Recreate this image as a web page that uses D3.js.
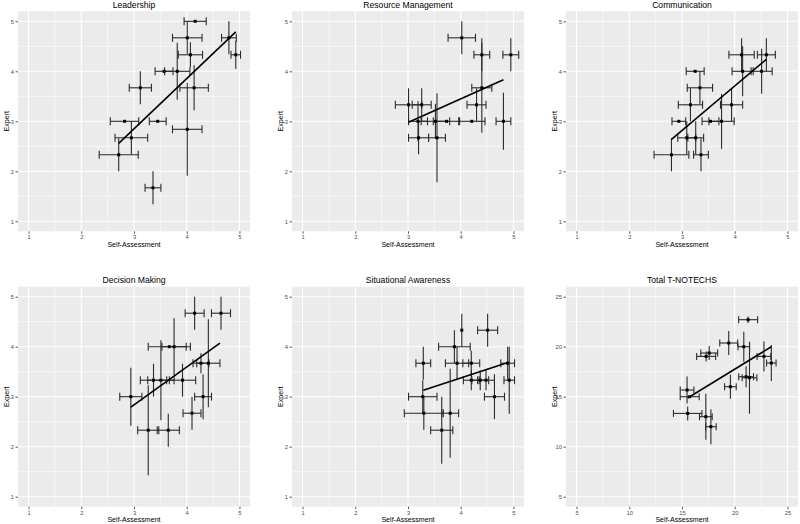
<!DOCTYPE html>
<html><head><meta charset="utf-8">
<script src="https://cdn.jsdelivr.net/npm/d3@7"></script>
<style>html,body{margin:0;padding:0;background:#fff;}svg{display:block;font-family:"Liberation Sans",Arial,sans-serif;}</style>
</head><body><svg id="c" width="800" height="524"></svg>
<script>
// ---------- data ----------
const panelTitles = ["Leadership","Resource Management","Communication","Decision Making","Situational Awareness","Total T-NOTECHS"];
const ticks1to5 = [1,2,3,4,5];
const ticksTotal = [5,10,15,20,25];

const leadSelf      = [4.16,4.01,4.07,4.80,4.93,3.57,3.82,3.12,4.14,2.82,3.45,4.01,2.95,2.71,3.36];
const leadSelfErr   = [0.21,0.28,0.23,0.14,0.09,0.17,0.24,0.21,0.27,0.27,0.16,0.28,0.31,0.37,0.15];
const leadExpert    = [5.00,4.67,4.33,4.67,4.33,4.00,4.00,3.67,3.67,3.00,3.00,2.84,2.67,2.33,1.67];
const leadExpertErr = [0.00,0.33,0.25,0.33,0.28,0.00,0.57,0.33,0.45,0.00,0.00,0.93,0.33,0.33,0.33];
const leadFitX = [2.71,4.93], leadFitY = [2.56,4.79];

const resSelf      = [4.02,4.40,4.95,4.40,4.30,3.01,3.26,3.19,3.52,3.73,4.21,4.81,3.20,3.55];
const resSelfErr   = [0.26,0.15,0.15,0.19,0.18,0.25,0.18,0.18,0.27,0.25,0.25,0.14,0.19,0.16];
const resExpert    = [4.67,4.33,4.33,3.67,3.33,3.33,3.33,3.00,3.00,3.00,3.00,3.00,2.67,2.67];
const resExpertErr = [0.33,0.33,0.33,0.90,0.33,0.33,0.33,0.40,0.35,0.00,0.00,0.57,0.33,0.89];
const resFitX = [3.01,4.81], resFitY = [2.98,3.83];

const comSelf      = [4.13,4.60,3.25,4.15,4.51,3.34,3.16,3.94,2.94,3.54,3.75,3.09,3.26,3.36,2.80];
const comSelfErr   = [0.24,0.17,0.17,0.20,0.20,0.24,0.23,0.21,0.13,0.16,0.24,0.17,0.15,0.14,0.33];
const comExpert    = [4.33,4.33,4.00,4.00,4.00,3.67,3.33,3.33,3.00,3.00,3.00,2.67,2.67,2.33,2.33];
const comExpertErr = [0.33,0.33,0.00,0.50,0.45,0.33,0.33,0.33,0.00,0.00,0.55,0.33,0.33,0.33,0.33];
const comFitX = [2.80,4.60], comFitY = [2.64,4.24];

const decSelf      = [4.15,4.65,3.67,3.76,4.27,4.41,3.37,3.51,3.92,2.94,4.31,4.10,3.27,3.65];
const decSelfErr   = [0.18,0.18,0.40,0.23,0.15,0.22,0.25,0.25,0.25,0.21,0.16,0.17,0.20,0.21];
const decExpert    = [4.67,4.67,4.00,4.00,3.67,3.67,3.33,3.33,3.33,3.00,3.00,2.67,2.33,2.33];
const decExpertErr = [0.33,0.33,0.00,0.57,0.20,0.88,0.33,0.80,0.33,0.58,0.45,0.33,0.90,0.33];
const decFitX = [2.94,4.63], decFitY = [2.79,4.07];

const sitSelf      = [4.02,4.51,3.88,3.29,3.93,4.20,4.89,4.20,4.37,4.48,4.92,3.28,4.64,3.30,3.80,3.64];
const sitSelfErr   = [0.00,0.19,0.30,0.14,0.22,0.16,0.13,0.15,0.16,0.16,0.10,0.27,0.19,0.37,0.16,0.21];
const sitExpert    = [4.33,4.33,4.00,3.67,3.67,3.67,3.67,3.33,3.33,3.33,3.33,3.00,3.00,2.67,2.67,2.33];
const sitExpertErr = [0.33,0.33,0.33,0.33,0.33,0.25,0.33,0.20,0.20,0.20,0.67,0.33,0.45,0.33,0.89,0.67];
const sitFitX = [3.29,4.91], sitFitY = [3.13,3.69];

const totSelf      = [21.27,19.43,20.86,17.58,17.29,22.77,23.47,21.08,21.40,19.59,15.48,15.73,15.54,17.26,17.74];
const totSelfErr   = [0.90,0.85,0.55,0.80,0.90,0.65,0.45,0.70,0.70,0.55,0.65,0.90,1.35,0.60,0.50];
const totExpert    = [22.70,20.37,20.00,19.37,19.03,19.03,18.37,17.00,16.90,16.00,15.67,15.00,13.33,13.00,12.00];
const totExpertErr = [0.33,1.20,1.50,0.70,0.50,1.50,1.80,1.05,3.60,1.20,1.35,0.00,0.70,2.30,1.75];
const totFitX = [15.54,23.47], totFitY = [14.87,20.00];

// ---------- layout ----------
const colLeft = [18, 292, 566], plotW = 232;
const rowTop = [11.3, 286.7], plotH = 220;

const panels = [
  {x:leadSelf, xe:leadSelfErr, y:leadExpert, ye:leadExpertErr, fx:leadFitX, fy:leadFitY, dom:[0.8,5.2], ticks:ticks1to5, cap:4},
  {x:resSelf, xe:resSelfErr, y:resExpert, ye:resExpertErr, fx:resFitX, fy:resFitY, dom:[0.8,5.2], ticks:ticks1to5, cap:4},
  {x:comSelf, xe:comSelfErr, y:comExpert, ye:comExpertErr, fx:comFitX, fy:comFitY, dom:[0.8,5.2], ticks:ticks1to5, cap:4},
  {x:decSelf, xe:decSelfErr, y:decExpert, ye:decExpertErr, fx:decFitX, fy:decFitY, dom:[0.8,5.2], ticks:ticks1to5, cap:4},
  {x:sitSelf, xe:sitSelfErr, y:sitExpert, ye:sitExpertErr, fx:sitFitX, fy:sitFitY, dom:[0.8,5.2], ticks:ticks1to5, cap:4},
  {x:totSelf, xe:totSelfErr, y:totExpert, ye:totExpertErr, fx:totFitX, fy:totFitY, dom:[4,26], ticks:ticksTotal, cap:3.5}
];

const svg = d3.select("#c");
panels.forEach((p, i) => {
  const col = i % 3, row = Math.floor(i / 3);
  const L = colLeft[col], T = rowTop[row];
  const xs = d3.scaleLinear().domain(p.dom).range([L, L + plotW]);
  const ys = d3.scaleLinear().domain(p.dom).range([T + plotH, T]);
  const g = svg.append("g");
  g.append("rect").attr("x", L).attr("y", T).attr("width", plotW).attr("height", plotH).attr("fill", "#EBEBEB");
  const step = p.ticks[1] - p.ticks[0];
  const minor = p.ticks.slice(0, -1).map(t => t + step / 2).concat([p.ticks[0] - step / 2]).filter(v => v > p.dom[0] && v < p.dom[1]);
  const cl = g.append("g");
  minor.forEach(v => {
    cl.append("line").attr("x1", xs(v)).attr("x2", xs(v)).attr("y1", T).attr("y2", T + plotH).attr("stroke", "#fff").attr("stroke-width", 0.6);
    cl.append("line").attr("y1", ys(v)).attr("y2", ys(v)).attr("x1", L).attr("x2", L + plotW).attr("stroke", "#fff").attr("stroke-width", 0.6);
  });
  p.ticks.forEach(v => {
    cl.append("line").attr("x1", xs(v)).attr("x2", xs(v)).attr("y1", T).attr("y2", T + plotH).attr("stroke", "#fff").attr("stroke-width", 1.1);
    cl.append("line").attr("y1", ys(v)).attr("y2", ys(v)).attr("x1", L).attr("x2", L + plotW).attr("stroke", "#fff").attr("stroke-width", 1.1);
  });
  // axes
  const fmt = d3.format("d");
  const xa = g.append("g").attr("transform", `translate(0,${T + plotH})`)
    .call(d3.axisBottom(xs).tickValues(p.ticks).tickFormat(fmt).tickSize(2.5).tickPadding(1.5));
  const ya = g.append("g").attr("transform", `translate(${L},0)`)
    .call(d3.axisLeft(ys).tickValues(p.ticks).tickFormat(fmt).tickSize(2.5).tickPadding(1.5));
  [xa, ya].forEach(a => {
    a.select(".domain").remove();
    a.selectAll(".tick line").attr("stroke", "#333").attr("stroke-width", 0.8);
    a.selectAll(".tick text").attr("fill", "#4D4D4D").attr("font-size", 5.8).attr("font-family", "Liberation Sans, Arial, sans-serif");
  });
  // titles
  g.append("text").attr("x", L + plotW / 2).attr("y", T - 3.3).attr("text-anchor", "middle")
    .attr("font-size", 8.6).attr("fill", "#000").text(panelTitles[i]);
  g.append("text").attr("x", L + plotW / 2).attr("y", T + plotH + 15.6).attr("text-anchor", "middle")
    .attr("font-size", 7.1).attr("fill", "#000").text("Self-Assessment");
  g.append("text").attr("transform", `translate(${L - 9.5},${T + plotH / 2}) rotate(-90)`).attr("text-anchor", "middle")
    .attr("font-size", 7.1).attr("fill", "#000").text("Expert");
  // error bars
  const idx = d3.range(p.x.length);
  const eb = g.append("g").attr("stroke", "#2b2b2b").attr("stroke-width", 1.1).attr("fill", "none");
  idx.forEach(k => {
    const cx = xs(p.x[k]), cy = ys(p.y[k]);
    if (p.ye[k] > 0) eb.append("line").attr("x1", cx).attr("x2", cx).attr("y1", ys(p.y[k] - p.ye[k])).attr("y2", ys(p.y[k] + p.ye[k]));
    if (p.xe[k] > 0) {
      const x0 = xs(p.x[k] - p.xe[k]), x1 = xs(p.x[k] + p.xe[k]);
      eb.append("line").attr("x1", x0).attr("x2", x1).attr("y1", cy).attr("y2", cy);
      eb.append("line").attr("x1", x0).attr("x2", x0).attr("y1", cy - p.cap).attr("y2", cy + p.cap);
      eb.append("line").attr("x1", x1).attr("x2", x1).attr("y1", cy - p.cap).attr("y2", cy + p.cap);
    }
  });
  // points
  g.append("g").selectAll("rect").data(idx).join("rect")
    .attr("x", k => xs(p.x[k]) - 1.5).attr("y", k => ys(p.y[k]) - 1.5)
    .attr("width", 3).attr("height", 3).attr("fill", "#000");
  // fit line
  g.append("line").attr("x1", xs(p.fx[0])).attr("y1", ys(p.fy[0])).attr("x2", xs(p.fx[1])).attr("y2", ys(p.fy[1]))
    .attr("stroke", "#000").attr("stroke-width", 1.6);
});
</script></body></html>
